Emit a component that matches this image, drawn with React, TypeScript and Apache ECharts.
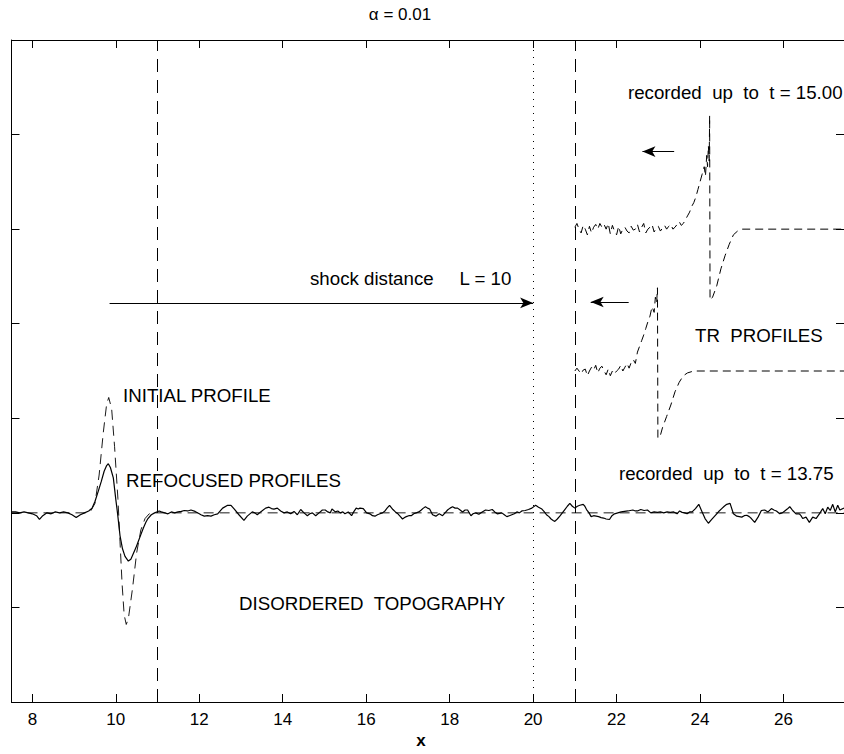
import React, { useEffect, useRef } from "react";
import * as echarts from "echarts";

// ---- tick positions / labels ----
const xTickValues = [8, 10, 12, 14, 16, 18, 20, 22, 24, 26];
const xTickLabels = ["8", "10", "12", "14", "16", "18", "20", "22", "24", "26"];
const yTickValues = [-2, -1, 0, 1, 2, 3, 4, 5];

// ---- reference lines ----
const dashedVerticals = [11, 21];
const dottedVerticals = [20];

// ---- initial profile (dashed) ----
const initialProfile: [number, number][] = [
  [7.5, 0], [9.3, 0], [9.4, 0.02], [9.5, 0.1], [9.6, 0.4], [9.7, 0.85], [9.78, 1.15],
  [9.83, 1.22], [9.9, 1.1], [9.97, 0.7], [10.05, 0.15], [10.1, -0.3], [10.15, -0.75],
  [10.2, -1.08], [10.25, -1.18], [10.3, -1.12], [10.4, -0.8], [10.5, -0.42], [10.6, -0.18],
  [10.7, -0.06], [10.8, -0.01], [10.9, 0], [27.45, 0],
];

// ---- refocused profile (solid) ----
const refocused: [number, number][] = [
  [7.5, 0.01], [7.6, 0.01], [7.7, 0.0], [7.8, 0.01], [7.9, 0.0], [8.0, -0.01], [8.1, -0.03], [8.17, -0.07],
  [8.25, -0.03], [8.35, 0.0], [8.45, -0.01], [8.55, 0.01], [8.65, 0.0], [8.75, 0.01], [8.85, 0.0], [8.95, -0.02],
  [9.05, -0.05], [9.15, -0.02], [9.25, 0.0], [9.35, 0.02], [9.43, 0.05], [9.5, 0.12], [9.58, 0.23], [9.65, 0.33],
  [9.72, 0.44], [9.78, 0.5], [9.82, 0.52], [9.87, 0.48], [9.94, 0.37], [10.0, 0.14], [10.04, 0.0], [10.1, -0.24],
  [10.16, -0.38], [10.22, -0.46], [10.3, -0.51], [10.36, -0.49], [10.42, -0.43], [10.48, -0.37], [10.54, -0.3],
  [10.6, -0.23], [10.66, -0.16], [10.72, -0.1], [10.77, -0.06], [10.85, -0.02], [10.93, 0.0], [11.04, 0.02],
  [11.09, 0.01], [11.17, 0.0], [11.25, -0.01], [11.33, 0.01], [11.41, 0.0], [11.49, 0.01], [11.57, 0.015],
  [11.64, 0.025], [11.72, 0.02], [11.8, 0.03], [11.9, 0.015], [12.0, -0.01], [12.04, -0.02], [12.12, -0.035],
  [12.2, -0.03], [12.28, -0.035], [12.36, -0.02], [12.44, -0.01], [12.56, 0.05], [12.68, 0.08], [12.76, 0.08],
  [12.84, 0.04], [12.95, -0.02], [13.07, -0.08], [13.15, -0.035], [13.27, 0.01], [13.33, 0.0], [13.39, -0.02],
  [13.47, 0.01], [13.59, 0.05], [13.67, 0.06], [13.73, 0.045], [13.79, 0.04], [13.87, 0.05], [13.95, 0.02],
  [14.03, 0.0], [14.11, 0.01], [14.19, -0.01], [14.27, 0.015], [14.35, -0.02], [14.43, 0.035], [14.51, 0.0],
  [14.59, -0.03], [14.65, -0.01], [14.71, 0.0], [14.79, -0.03], [14.87, 0.0], [14.95, 0.03], [15.02, 0.03],
  [15.08, 0.01], [15.14, 0.0], [15.18, 0.04], [15.26, 0.01], [15.32, 0.02], [15.38, 0.0], [15.44, 0.01],
  [15.49, -0.01], [15.57, 0.01], [15.65, -0.03], [15.7, 0.01], [15.76, 0.05], [15.81, 0.04], [15.85, 0.05],
  [15.93, 0.045], [16.01, 0.0], [16.09, -0.01], [16.15, -0.03], [16.21, -0.035], [16.27, -0.02], [16.33, -0.01],
  [16.39, 0.0], [16.45, 0.02], [16.5, 0.05], [16.56, 0.08], [16.64, 0.035], [16.7, 0.01], [16.76, -0.01],
  [16.82, -0.04], [16.87, -0.065], [16.92, -0.05], [16.96, -0.04], [17.02, -0.03], [17.08, -0.03], [17.14, -0.01],
  [17.2, 0.0], [17.26, 0.01], [17.32, 0.03], [17.37, 0.05], [17.42, 0.065], [17.47, 0.05], [17.52, 0.04],
  [17.59, -0.02], [17.67, -0.035], [17.75, -0.01], [17.83, -0.03], [17.89, 0.0], [17.95, 0.03], [18.01, 0.05],
  [18.07, 0.065], [18.13, 0.05], [18.19, 0.05], [18.25, 0.03], [18.31, 0.01], [18.37, 0.03], [18.43, 0.03],
  [18.51, -0.03], [18.56, -0.01], [18.62, 0.0], [18.7, -0.015], [18.78, 0.01], [18.86, 0.03], [18.94, 0.025],
  [19.02, 0.035], [19.08, 0.01], [19.14, -0.01], [19.2, -0.005], [19.25, 0.0], [19.31, -0.02], [19.37, -0.04],
  [19.43, -0.03], [19.49, -0.02], [19.55, -0.01], [19.61, 0.01], [19.67, 0.0], [19.73, 0.02], [19.81, 0.025],
  [19.89, 0.035], [19.97, 0.05], [20.06, 0.08], [20.13, 0.06], [20.21, 0.04], [20.27, 0.01], [20.32, -0.02],
  [20.38, -0.04], [20.43, -0.065], [20.48, -0.08], [20.52, -0.09], [20.58, -0.065], [20.64, -0.035], [20.7, 0.0],
  [20.76, 0.035], [20.82, 0.07], [20.88, 0.1], [20.94, 0.07], [21.0, 0.05], [21.06, 0.07], [21.12, 0.08],
  [21.2, 0.09], [21.24, 0.07], [21.28, 0.035], [21.34, 0.0], [21.39, -0.04], [21.45, -0.03], [21.51, -0.035],
  [21.57, -0.04], [21.63, -0.05], [21.69, -0.055], [21.75, -0.065], [21.83, -0.07], [21.89, -0.03], [21.95, -0.01],
  [22.03, 0.0], [22.11, 0.01], [22.19, 0.015], [22.27, 0.02], [22.33, 0.025], [22.39, 0.03], [22.45, 0.02],
  [22.5, 0.02], [22.58, 0.035], [22.66, 0.025], [22.74, 0.03], [22.82, 0.0], [22.9, 0.01], [22.98, 0.005],
  [23.05, 0.01], [23.13, 0.0], [23.21, 0.01], [23.29, 0.005], [23.37, 0.01], [23.45, -0.01], [23.51, 0.02],
  [23.57, 0.005], [23.63, 0.0], [23.69, -0.01], [23.75, 0.01], [23.81, 0.01], [23.89, 0.045], [23.97, 0.09],
  [24.05, 0.01], [24.12, -0.06], [24.2, -0.11], [24.28, -0.07], [24.34, -0.04], [24.4, -0.01], [24.46, 0.02],
  [24.52, 0.045], [24.58, 0.07], [24.64, 0.09], [24.72, 0.1], [24.8, -0.01], [24.88, -0.035], [24.94, -0.04],
  [25.0, -0.045], [25.06, -0.03], [25.12, -0.025], [25.18, -0.04], [25.23, -0.06], [25.31, -0.1], [25.39, -0.045],
  [25.47, 0.025], [25.55, 0.03], [25.63, 0.01], [25.71, 0.045], [25.77, 0.03], [25.83, 0.02], [25.91, -0.01],
  [25.97, 0.0], [26.03, 0.02], [26.09, 0.04], [26.15, 0.065], [26.22, 0.025], [26.3, -0.01], [26.38, -0.01],
  [26.42, -0.03], [26.46, -0.06], [26.54, -0.045], [26.62, -0.1], [26.7, -0.045], [26.78, -0.06], [26.86, -0.01],
  [26.94, 0.045], [27.0, -0.01], [27.06, 0.06], [27.12, 0.025], [27.18, 0.09], [27.24, 0.01], [27.3, 0.08],
  [27.35, 0.03], [27.45, 0.05],
];

// ---- time-reversed profiles (dashed), values relative to their own baseline ----
const trUpperBase = 3;
const trUpper: [number, number][] = [
  [21.0, 0.02], [21.05, 0.06], [21.1, 0.0], [21.15, -0.04], [21.2, 0.04], [21.25, 0.0], [21.3, -0.06],
  [21.35, 0.03], [21.4, -0.04], [21.45, 0.02], [21.5, 0.05], [21.55, 0.0], [21.6, 0.06], [21.65, 0.02],
  [21.7, 0.05], [21.75, 0.0], [21.8, 0.06], [21.85, -0.05], [21.9, 0.04], [21.95, -0.02], [22.0, -0.06],
  [22.05, 0.03], [22.1, -0.05], [22.15, 0.0], [22.2, 0.02], [22.25, -0.02], [22.3, -0.04], [22.35, 0.03],
  [22.4, -0.01], [22.45, 0.0], [22.5, 0.05], [22.55, -0.03], [22.6, 0.02], [22.65, 0.06], [22.7, -0.04],
  [22.75, 0.0], [22.8, 0.02], [22.85, 0.05], [22.9, -0.03], [22.95, 0.01], [23.0, 0.03], [23.05, -0.02],
  [23.1, 0.01], [23.15, 0.04], [23.2, 0.0], [23.25, 0.03], [23.3, 0.05], [23.35, 0.0], [23.4, 0.02],
  [23.45, 0.05], [23.5, 0.08], [23.55, 0.04], [23.6, 0.06], [23.65, 0.1], [23.7, 0.14], [23.75, 0.18],
  [23.8, 0.24], [23.85, 0.28], [23.9, 0.34], [23.95, 0.42], [24.0, 0.5], [24.05, 0.58], [24.1, 0.66],
  [24.13, 0.56], [24.16, 0.78], [24.18, 0.66], [24.2, 0.88], [24.22, 0.72], [24.23, 1.2], [24.24, -0.75],
  [24.3, -0.72], [24.4, -0.6], [24.5, -0.42], [24.6, -0.28], [24.7, -0.16], [24.8, -0.06], [24.9, -0.02],
  [25.0, 0.0], [27.45, 0.0],
];

const trMiddleBase = 1.5;
const trMiddle: [number, number][] = [
  [21.0, 0.0], [21.05, 0.03], [21.1, 0.0], [21.15, -0.03], [21.2, 0.01], [21.25, 0.02], [21.3, -0.05],
  [21.35, 0.0], [21.4, 0.04], [21.45, 0.01], [21.5, 0.06], [21.55, -0.02], [21.6, 0.03], [21.65, 0.05],
  [21.7, 0.0], [21.75, -0.04], [21.8, 0.02], [21.85, -0.05], [21.9, 0.0], [21.95, -0.03], [22.0, 0.0],
  [22.05, 0.02], [22.1, 0.06], [22.15, 0.0], [22.2, 0.04], [22.25, 0.08], [22.3, 0.03], [22.35, 0.09],
  [22.4, 0.12], [22.45, 0.08], [22.5, 0.2], [22.55, 0.26], [22.6, 0.32], [22.65, 0.38], [22.7, 0.45],
  [22.75, 0.52], [22.8, 0.58], [22.85, 0.68], [22.9, 0.62], [22.93, 0.78], [22.96, 0.72], [22.98, 0.88],
  [22.99, -0.71], [23.05, -0.68], [23.1, -0.6], [23.2, -0.48], [23.3, -0.36], [23.4, -0.22], [23.5, -0.12],
  [23.6, -0.05], [23.7, -0.02], [23.85, 0.0], [27.45, 0.0],
];

// ---- arrows (data coordinates) ----
const arrowLines: { from: [number, number]; to: [number, number] }[] = [
  { from: [9.85, 2.22], to: [20.0, 2.22] },
  { from: [23.38, 3.82], to: [22.62, 3.82] },
  { from: [22.29, 2.23], to: [21.38, 2.23] },
];

const FONT = '"Liberation Sans", Arial, Helvetica, sans-serif';

export default function App() {
  const ref = useRef<HTMLDivElement>(null);

  useEffect(() => {
    if (!ref.current) return;
    const chart = echarts.init(ref.current, undefined, { renderer: "svg" });

    const textEl = (text: string, x: number, y: number, size = 18.7, align = "left", weight = "normal") => ({
      type: "text",
      x,
      y,
      silent: true,
      style: {
        text,
        fill: "#000",
        fontFamily: FONT,
        fontSize: size,
        fontWeight: weight,
        align,
        verticalAlign: "middle",
        textAlign: align,
        textVerticalAlign: "middle",
      },
    });

    const commonX = {
      type: "value",
      min: 7.5,
      max: 27.45,
      splitLine: { show: false },
      axisLine: { show: true, onZero: false, lineStyle: { color: "#000", width: 1 } },
    };
    const commonY = {
      type: "value",
      min: -2,
      max: 5,
      interval: 1,
      splitLine: { show: false },
      axisLabel: { show: false },
      axisLine: { show: true, onZero: false, lineStyle: { color: "#000", width: 1 } },
      axisTick: { show: true, inside: true, length: 8, lineStyle: { color: "#000" }, customValues: yTickValues },
    };

    const option: any = {
      animation: false,
      backgroundColor: "#fff",
      grid: { left: 11.5, top: 40, width: 839, height: 662, containLabel: false },
      xAxis: [
        {
          ...commonX,
          position: "bottom",
          axisTick: { show: true, inside: true, length: 8, lineStyle: { color: "#000" }, customValues: xTickValues },
          axisLabel: {
            show: true,
            color: "#000",
            fontFamily: FONT,
            fontSize: 17,
            margin: 9,
            customValues: xTickValues,
            formatter: (v: number) => xTickLabels[xTickValues.indexOf(v)] ?? "",
          },
        },
        {
          ...commonX,
          position: "top",
          axisTick: { show: true, inside: true, length: 8, lineStyle: { color: "#000" }, customValues: xTickValues },
          axisLabel: { show: false },
        },
      ],
      yAxis: [
        { ...commonY, position: "left" },
        { ...commonY, position: "right" },
      ],
      series: [
        {
          type: "line",
          name: "initial",
          data: initialProfile,
          showSymbol: false,
          symbol: "none",
          lineStyle: { color: "#000", width: 0.9, type: [10, 6] },
          z: 2,
          markLine: {
            silent: true,
            symbol: ["none", "none"],
            label: { show: false },
            animation: false,
            data: [
              ...dashedVerticals.map((v) => ({ xAxis: v, lineStyle: { color: "#000", width: 1, type: [13, 8] } })),
              ...dottedVerticals.map((v) => ({ xAxis: v, lineStyle: { color: "#000", width: 1, type: [1, 6] } })),
            ],
          },
        },
        {
          type: "line",
          name: "refocused",
          data: refocused,
          showSymbol: false,
          symbol: "none",
          lineStyle: { color: "#000", width: 1.2 },
          z: 3,
        },
        {
          type: "line",
          name: "trUpper",
          data: trUpper.map(([x, y]) => [x, y + trUpperBase]),
          showSymbol: false,
          symbol: "none",
          lineStyle: { color: "#000", width: 1, type: [8, 5] },
          z: 3,
        },
        {
          type: "line",
          name: "trMiddle",
          data: trMiddle.map(([x, y]) => [x, y + trMiddleBase]),
          showSymbol: false,
          symbol: "none",
          lineStyle: { color: "#000", width: 1, type: [8, 5] },
          z: 3,
        },
        {
          type: "line",
          name: "arrows",
          data: [[7.5, 0]],
          showSymbol: false,
          symbol: "none",
          lineStyle: { width: 0 },
          markLine: {
            silent: true,
            symbol: ["none", "arrow"],
            symbolSize: [8, 13],
            label: { show: false },
            animation: false,
            lineStyle: { color: "#000", width: 1, type: "solid" },
            itemStyle: { color: "#000" },
            data: arrowLines.map((a) => [{ coord: a.from }, { coord: a.to }]),
          },
        },
      ],
      graphic: [
        textEl("\u03b1 = 0.01", 400, 14, 17, "center"),
        textEl("recorded  up  to  t = 15.00", 628, 92),
        textEl("shock distance     L = 10", 310, 278),
        textEl("TR  PROFILES", 695, 335),
        textEl("INITIAL PROFILE", 123, 395),
        textEl("REFOCUSED PROFILES", 126, 480),
        textEl("recorded  up  to  t = 13.75", 619, 473),
        textEl("DISORDERED  TOPOGRAPHY", 239, 603),
        textEl("x", 421, 740, 17, "center", "bold"),
      ],
    };

    chart.setOption(option);
    return () => chart.dispose();
  }, []);

  return (
    <div
      ref={ref}
      style={{ position: "fixed", left: 0, top: 0, width: 844, height: 754, background: "#fff" }}
    />
  );
}
